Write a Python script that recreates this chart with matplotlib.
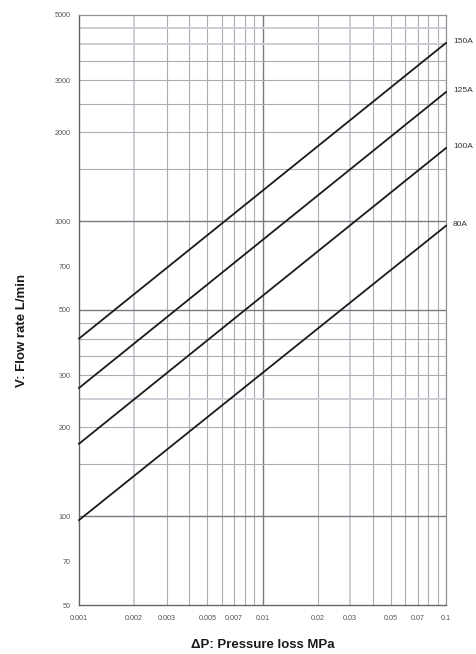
import numpy as np
import matplotlib
matplotlib.use("Agg")
import matplotlib.pyplot as plt

plt.rcParams["font.family"] = ["Liberation Sans", "DejaVu Sans"]

# ------------------------------------------------------------
# data (end points of each straight line)
# ------------------------------------------------------------
dp = [0.001, 0.1]                      # pressure loss MPa
sizes = ["80A", "100A", "125A", "150A"]
flow_80 = [97, 965]
flow_100 = [176, 1770]
flow_125 = [272, 2740]
flow_150 = [400, 4020]
flows = [flow_80, flow_100, flow_125, flow_150]

x_ticks = [0.001, 0.002, 0.003, 0.005, 0.007, 0.01, 0.02, 0.03, 0.05, 0.07, 0.1]
x_tick_labels = ["0.001", "0.002", "0.003", "0.005", "0.007", "0.01",
                 "0.02", "0.03", "0.05", "0.07", "0.1"]
y_ticks = [50, 70, 100, 200, 300, 500, 700, 1000, 2000, 3000, 5000]
y_tick_labels = [str(v) for v in y_ticks]

x_grid = [0.002, 0.003, 0.004, 0.005, 0.006, 0.007, 0.008, 0.009, 0.01,
          0.02, 0.03, 0.04, 0.05, 0.06, 0.07, 0.08, 0.09, 0.1]
y_grid = [100, 150, 200, 250, 300, 350, 400, 450, 500,
          1000, 1500, 2000, 2500, 3000, 3500, 4000, 4500]
dark_x = [0.01]
dark_y = [100, 500, 1000]
light_x = [0.002, 0.03]
light_y = [250, 4000, 4500]

fig = plt.figure(figsize=(4.76, 6.54), dpi=100)
ax = fig.add_axes([79 / 476, 49 / 654, 367 / 476, 590 / 654])
ax.set_xscale("log")
ax.set_yscale("log")
ax.set_xlim(0.001, 0.1)
ax.set_ylim(50, 5000)

for gx in x_grid:
    if gx in dark_x:
        c, lw = "#7a7a80", 1.0
    elif gx in light_x:
        c, lw = "#cdcdd5", 1.4
    else:
        c, lw = "#acacb4", 0.8
    ax.axvline(gx, color=c, linewidth=lw, zorder=1)

for gy in y_grid:
    if gy in dark_y:
        c, lw = "#7a7a80", 1.0
    elif gy in light_y:
        c, lw = "#cdcdd5", 1.4
    else:
        c, lw = "#acacb4", 0.8
    ax.axhline(gy, color=c, linewidth=lw, zorder=1)

for name, fl in zip(sizes, flows):
    ax.plot(dp, fl, color="#1a1a1a", linewidth=1.3, zorder=3, clip_on=False)
    ax.annotate(name, xy=(dp[-1], fl[-1]), xytext=(5, 1),
                textcoords="offset points", fontsize=6, color="#333333",
                ha="left", va="center", annotation_clip=False)

ax.set_xticks(x_ticks)
ax.set_xticklabels(x_tick_labels)
ax.set_yticks(y_ticks)
ax.set_yticklabels(y_tick_labels)
ax.minorticks_off()
ax.tick_params(axis="both", length=0, labelsize=5.2, labelcolor="#555555")
ax.tick_params(axis="x", pad=7)
ax.tick_params(axis="y", pad=6)

for side in ["left", "bottom"]:
    ax.spines[side].set_color("#666666")
    ax.spines[side].set_linewidth(1.0)
for side in ["top", "right"]:
    ax.spines[side].set_color("#909098")
    ax.spines[side].set_linewidth(0.9)

fig.text(22 / 476, 1 - 330 / 654, "V: Flow rate L/min", rotation=90,
         ha="center", va="center", fontsize=9.5, fontweight="bold",
         color="#1a1a1a")
fig.text(263 / 476, 1 - 645 / 654, "ΔP: Pressure loss MPa",
         ha="center", va="center", fontsize=9.5, fontweight="bold",
         color="#1a1a1a")

plt.savefig("out.png", dpi=100)
plt.close()
